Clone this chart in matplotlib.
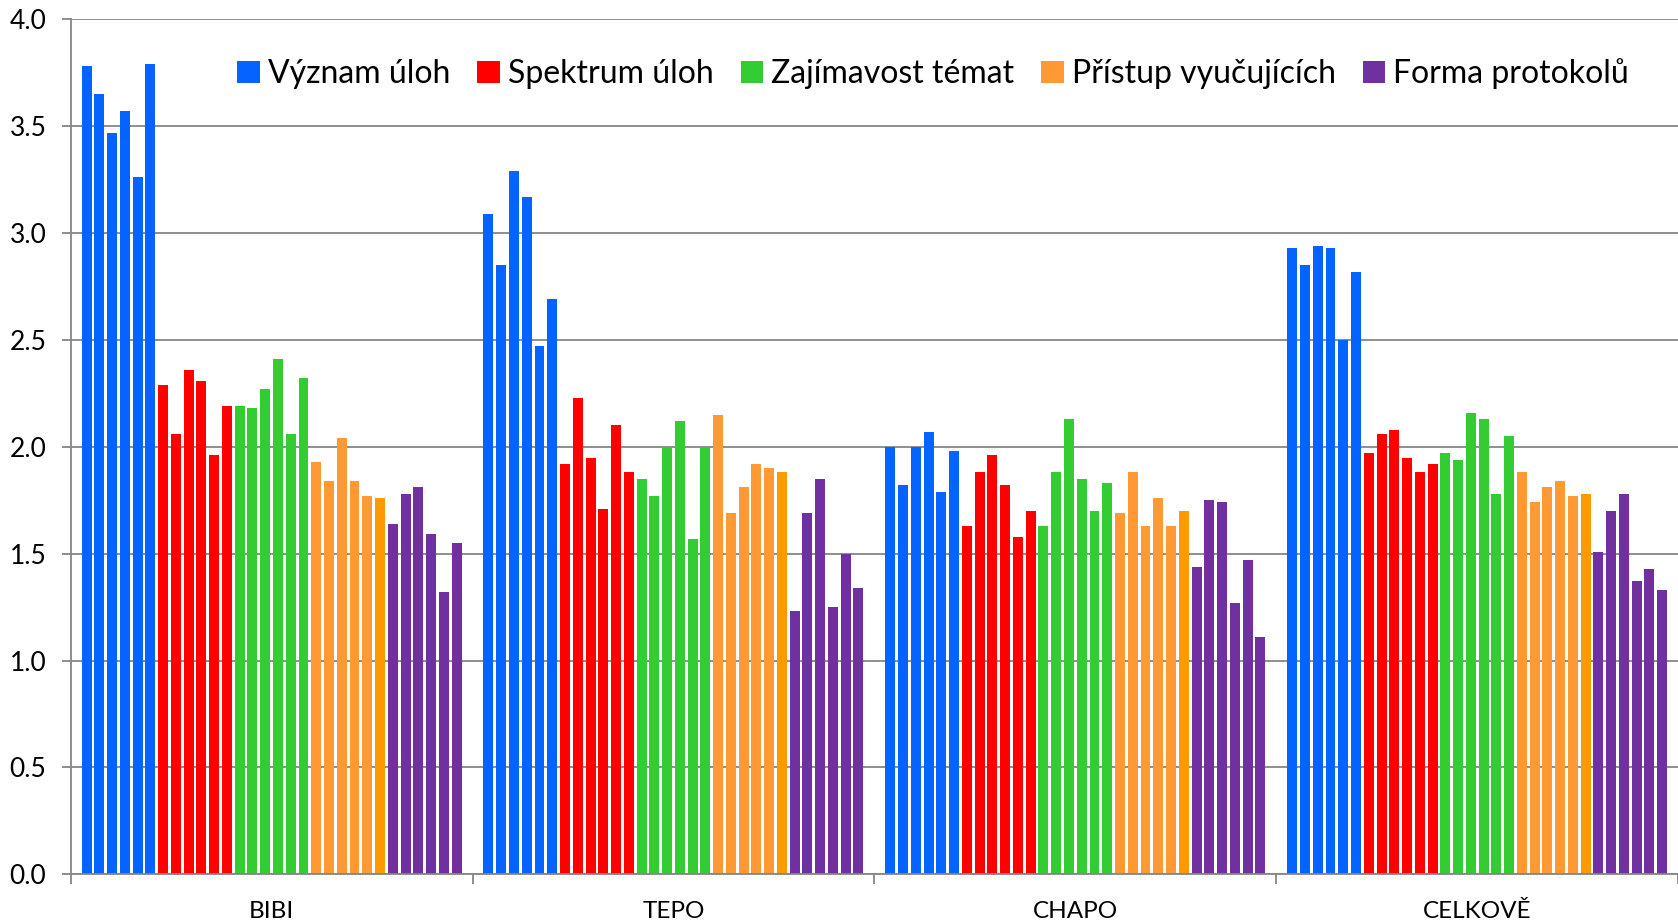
import matplotlib
matplotlib.use("Agg")
import matplotlib.pyplot as plt
from matplotlib.patches import Patch
import numpy as np

plt.rcParams['font.family'] = ['Lato', 'DejaVu Sans']

categories = ["BIBI", "TEPO", "CHAPO", "CELKOVĚ"]
series_names = ["Význam úloh", "Spektrum úloh", "Zajímavost témat",
                "Přístup vyučujících", "Forma protokolů"]

# each series: 6 values per category (BIBI, TEPO, CHAPO, CELKOVĚ)
vyznam = [
    [3.78, 3.65, 3.47, 3.57, 3.26, 3.79],
    [3.09, 2.85, 3.29, 3.17, 2.47, 2.69],
    [2.00, 1.82, 2.00, 2.07, 1.79, 1.98],
    [2.93, 2.85, 2.94, 2.93, 2.50, 2.82],
]
spektrum = [
    [2.29, 2.06, 2.36, 2.31, 1.96, 2.19],
    [1.92, 2.23, 1.95, 1.71, 2.10, 1.88],
    [1.63, 1.88, 1.96, 1.82, 1.58, 1.70],
    [1.97, 2.06, 2.08, 1.95, 1.88, 1.92],
]
zajimavost = [
    [2.19, 2.18, 2.27, 2.41, 2.06, 2.32],
    [1.85, 1.77, 2.00, 2.12, 1.57, 2.00],
    [1.63, 1.88, 2.13, 1.85, 1.70, 1.83],
    [1.97, 1.94, 2.16, 2.13, 1.78, 2.05],
]
pristup = [
    [1.93, 1.84, 2.04, 1.84, 1.77, 1.76],
    [2.15, 1.69, 1.81, 1.92, 1.90, 1.88],
    [1.69, 1.88, 1.63, 1.76, 1.63, 1.70],
    [1.88, 1.74, 1.81, 1.84, 1.77, 1.78],
]
forma = [
    [1.64, 1.78, 1.81, 1.59, 1.32, 1.55],
    [1.23, 1.69, 1.85, 1.25, 1.50, 1.34],
    [1.44, 1.75, 1.74, 1.27, 1.47, 1.11],
    [1.51, 1.70, 1.78, 1.37, 1.43, 1.33],
]
all_series = [vyznam, spektrum, zajimavost, pristup, forma]

colors = [
    ["#0563FF"] * 6,
    ["#FF0000"] * 6,
    ["#33CC33"] * 6,
    ["#FF9933"] * 5 + ["#FF9900"],
    ["#7030A0"] * 6,
]

fig = plt.figure(figsize=(16.78, 9.23), dpi=100)
ax = fig.add_axes([0.0421, 0.0527, 0.958, 0.9264])

n_bars = 30
slot = 1.0 / (n_bars + 1.5)
bw = slot * 0.78
grid_c = "#868686"

for ci in range(len(categories)):
    k = 0
    for si, ser in enumerate(all_series):
        for j, v in enumerate(ser[ci]):
            x = ci + 0.75 * slot + (k + 0.5) * slot
            ax.bar(x, v, width=bw, color=colors[si][j], edgecolor='none', zorder=2)
            k += 1

ax.set_xlim(0, 4)
ax.set_ylim(0, 4)
ax.set_yticks(np.arange(0, 4.01, 0.5))
ax.set_yticklabels([f"{t:.1f}" for t in np.arange(0, 4.01, 0.5)], fontsize=19)
ax.yaxis.grid(True, color=grid_c, linewidth=1.3, zorder=0)
ax.set_axisbelow(True)

ax.set_xticks([0, 1, 2, 3, 4])
ax.set_xticklabels([])
ax.set_xticks([0.5, 1.5, 2.5, 3.5], minor=True)
ax.set_xticklabels(categories, minor=True, fontsize=17.5)
ax.tick_params(axis='x', which='minor', length=0, pad=19.5)
ax.tick_params(axis='x', which='major', length=7, width=1.3, color=grid_c, direction='out')
ax.tick_params(axis='y', length=6.5, width=1.3, color=grid_c, pad=11)

for s in ['top', 'right']:
    ax.spines[s].set_visible(False)
for s in ['left', 'bottom']:
    ax.spines[s].set_color(grid_c)
    ax.spines[s].set_linewidth(1.3)

handles = [Patch(facecolor=colors[i][0], edgecolor='none') for i in range(5)]
leg = ax.legend(handles, series_names, ncol=5, loc='center',
                bbox_to_anchor=(0.5365, 0.9365), frameon=False, fontsize=23,
                handlelength=0.7, handleheight=0.7, handletextpad=0.25,
                columnspacing=0.85, borderaxespad=0)

fig.savefig("out.png", dpi=100)
